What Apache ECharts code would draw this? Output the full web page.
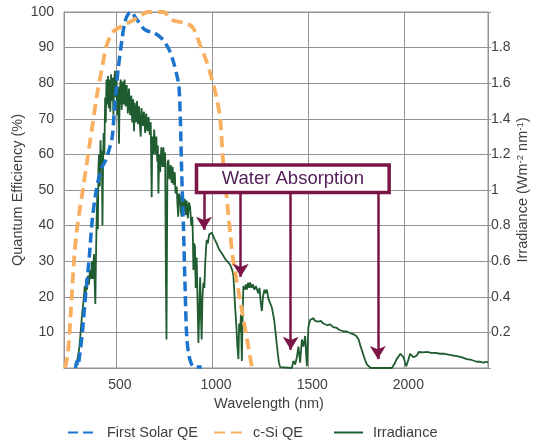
<!DOCTYPE html>
<html>
<head>
<meta charset="utf-8">
<script src="https://cdn.jsdelivr.net/npm/echarts@6/dist/echarts.min.js"></script>
<style>
  html, body { margin: 0; padding: 0; background: #fff; }
  #chart { width: 533px; height: 445px; }
</style>
</head>
<body>
<div id="chart"></div>
<script>
// Wavelength axis ticks (nm)
const wavelengthTicks = [500, 1000, 1500, 2000];

// Quantum efficiency curves: [wavelength nm, QE %]
const firstSolarQE = [
  [290, 0], [296, 1.8], [302, 0.6], [310, 3], [325, 9.7], [343, 21], [360, 30.3],
  [377, 41.6], [395, 49], [412, 53.7], [429, 56.5], [447, 58.4], [464, 61.2],
  [481, 65], [490, 71], [499, 77], [512, 84], [530, 91.7], [547, 97.3],
  [565, 99.5], [582, 100], [600, 98.5], [617, 97.3], [651, 95], [703, 94],
  [738, 92.6], [773, 89.8], [799, 86], [818, 82], [828, 79], [835, 70],
  [842, 55], [851, 40], [860, 22], [868, 9], [878, 4], [890, 1.5], [905, 0.3],
  [946, 0.3]
];

const cSiQE = [
  [235, 0], [250, 4], [265, 15.4], [282, 30.3], [299, 39.7], [325, 49],
  [351, 58.4], [377, 67.8], [403, 77.2], [429, 84.6], [452, 90.7], [487, 94.5],
  [539, 96.3], [591, 97.7], [625, 99], [669, 100], [747, 100], [790, 97.8],
  [868, 96.8], [903, 95.4], [938, 90.7], [972, 86], [998, 81.4], [1024, 75.8],
  [1042, 70], [1057, 58.4], [1078, 47], [1094, 38], [1110, 30.3], [1146, 19],
  [1182, 8], [1208, 0]
];

// Solar spectral irradiance: [wavelength nm, W m-2 nm-1]
const irradiance = [
  [290, 0], [295, 0.02], [300, 0.05], [305, 0.08], [310, 0.12], [315, 0.18],
  [320, 0.25], [325, 0.31], [330, 0.36], [335, 0.42], [338, 0.46], [342, 0.4],
  [346, 0.5], [350, 0.44], [355, 0.52], [360, 0.47], [365, 0.55], [370, 0.5],
  [375, 0.6], [380, 0.5], [386, 0.64], [390, 0.46], [393, 0.36], [396, 0.6],
  [400, 0.85], [403, 0.96], [406, 0.78], [409, 1.12], [412, 1.2], [416, 1.02],
  [420, 1.28], [424, 1.12], [427, 1.22], [430, 0.8], [433, 1.15], [436, 1.32],
  [440, 1.2], [444, 1.52], [447, 1.38], [451, 1.62], [455, 1.48], [459, 1.64],
  [463, 1.46], [467, 1.62], [471, 1.44], [475, 1.65], [479, 1.5], [483, 1.63],
  [487, 1.42], [490, 1.6], [495, 1.67], [499, 1.52], [503, 1.63], [507, 1.42],
  [511, 1.58], [516, 1.26], [520, 1.56], [525, 1.62], [530, 1.45], [535, 1.61],
  [540, 1.48], [545, 1.62], [550, 1.47], [556, 1.59], [562, 1.43], [568, 1.57],
  [574, 1.42], [580, 1.53], [585, 1.38], [590, 1.51], [594, 1.33], [598, 1.49],
  [604, 1.38], [610, 1.5], [615, 1.37], [620, 1.47], [625, 1.36], [629, 1.3],
  [633, 1.46], [640, 1.36], [646, 1.44], [652, 1.32], [658, 1.43], [664, 1.33],
  [670, 1.41], [676, 1.31], [681, 1.38], [686, 0.96], [689, 1.3], [694, 1.2],
  [699, 1.34], [705, 1.2], [710, 1.3], [715, 1.16], [718, 1.25], [721, 0.98],
  [725, 1.2], [730, 1.1], [736, 1.24], [742, 1.13], [747, 1.24], [752, 1.13],
  [756, 1.21], [760, 0.5], [763, 0.16], [765, 0.6], [768, 1.15], [773, 1.17],
  [778, 1.06], [785, 1.14], [790, 1.04], [795, 1.13], [800, 1.03], [806, 1.1],
  [810, 0.98], [816, 1.02], [820, 0.92], [824, 0.85], [828, 0.98], [834, 0.96],
  [838, 0.88], [842, 0.85], [847, 0.96], [852, 0.88], [858, 0.95], [863, 0.86],
  [868, 0.94], [874, 0.84], [880, 0.93], [886, 0.9], [892, 0.8], [897, 0.85],
  [900, 0.75], [903, 0.55], [907, 0.7], [911, 0.68], [915, 0.45], [920, 0.62],
  [925, 0.35], [929, 0.14], [933, 0.3], [938, 0.51], [942, 0.3], [946, 0.16],
  [950, 0.4], [955, 0.48], [960, 0.45], [964, 0.58], [968, 0.66], [972, 0.72],
  [978, 0.7], [985, 0.75], [990, 0.74], [998, 0.76], [1005, 0.75], [1015, 0.72],
  [1024, 0.7], [1035, 0.67], [1045, 0.66], [1059, 0.63], [1070, 0.61],
  [1080, 0.6], [1094, 0.58], [1105, 0.55], [1111, 0.52], [1116, 0.42],
  [1120, 0.34], [1124, 0.28], [1128, 0.2], [1132, 0.12], [1137, 0.05],
  [1141, 0.25], [1146, 0.2], [1150, 0.3], [1155, 0.04], [1159, 0.3],
  [1163, 0.46], [1170, 0.44], [1176, 0.47], [1181, 0.44], [1188, 0.48],
  [1193, 0.45], [1198, 0.48], [1205, 0.45], [1212, 0.47], [1220, 0.44],
  [1228, 0.46], [1233, 0.45], [1240, 0.42], [1247, 0.45], [1252, 0.38],
  [1259, 0.32], [1265, 0.4], [1272, 0.44], [1278, 0.42], [1285, 0.44],
  [1293, 0.39], [1300, 0.37], [1311, 0.34], [1318, 0.3], [1324, 0.26],
  [1330, 0.2], [1336, 0.14], [1342, 0.08], [1348, 0.03], [1354, 0.005],
  [1360, 0], [1415, 0], [1423, 0.04], [1432, 0.02], [1441, 0.06], [1449, 0.12],
  [1458, 0.03], [1467, 0.16], [1475, 0.12], [1484, 0.18], [1493, 0.01],
  [1501, 0.23], [1510, 0.27], [1518, 0.26], [1527, 0.28], [1535, 0.265],
  [1545, 0.275], [1553, 0.26], [1565, 0.265], [1579, 0.25], [1588, 0.255],
  [1600, 0.24], [1614, 0.245], [1630, 0.23], [1649, 0.225], [1660, 0.215],
  [1670, 0.215], [1685, 0.205], [1701, 0.205], [1720, 0.195], [1736, 0.19],
  [1750, 0.18], [1762, 0.16], [1770, 0.13], [1779, 0.1], [1788, 0.07],
  [1796, 0.045], [1805, 0.02], [1814, 0.01], [1825, 0], [1935, 0],
  [1945, 0.01], [1952, 0.03], [1960, 0.05], [1970, 0.06], [1980, 0.08],
  [1987, 0.08], [1996, 0.06], [2004, 0.03], [2010, 0.01], [2016, 0.03],
  [2022, 0.05], [2030, 0.08], [2039, 0.09], [2048, 0.06], [2056, 0.07],
  [2065, 0.07], [2075, 0.09], [2082, 0.09], [2100, 0.088], [2117, 0.09],
  [2140, 0.085], [2160, 0.085], [2186, 0.08], [2210, 0.08], [2230, 0.075],
  [2256, 0.07], [2280, 0.065], [2300, 0.06], [2325, 0.05], [2350, 0.045],
  [2377, 0.035], [2395, 0.035], [2412, 0.03], [2425, 0.035], [2435, 0.03]
];

// Water absorption call-out: box extent and arrow targets
const absorptionLabel = 'Water Absorption';
const absorptionBox = { from: [919, 57.0], to: [1921, 49.3] };
const arrowWavelengths = [958, 1149, 1409, 1862];
const arrowTips = [38.8, 25.6, 5.1, 2.5];

const textColor = '#404040';
const gridColor = '#939393';
const maroon = '#7A1546';
const fontFamily = '"Liberation Sans", Arial, sans-serif';

const chart = echarts.init(document.getElementById('chart'), null, { renderer: 'canvas' });

const legendBase = {
  top: 425,
  padding: 0,
  itemWidth: 29,
  itemHeight: 14,
  itemStyle: { opacity: 0 },
  textStyle: { color: textColor, fontSize: 14.5, fontFamily, padding: [0, 0, 0, 5] }
};

chart.setOption({
  animation: false,
  backgroundColor: '#fff',
  textStyle: { fontFamily },
  grid: {
    left: 64, right: 45, top: 12, bottom: 77,
    outerBoundsMode: 'none',
    containLabel: false,
    show: true, borderColor: gridColor, borderWidth: 1
  },
  legend: [
    Object.assign({ left: 67, data: ['First Solar QE'] }, legendBase),
    Object.assign({ left: 213, data: ['c-Si QE'] }, legendBase),
    Object.assign({ left: 333, data: ['Irradiance'] }, legendBase)
  ],
  xAxis: {
    type: 'value',
    min: 230,
    max: 2435,
    name: 'Wavelength (nm)',
    nameLocation: 'middle',
    nameGap: 28,
    nameMoveOverlap: false,
    nameTextStyle: { color: textColor, fontSize: 14.5, padding: [0, 14, 0, 0] },
    axisLine: { show: true, lineStyle: { color: gridColor } },
    axisTick: { show: false, customValues: wavelengthTicks },
    axisLabel: {
      customValues: wavelengthTicks,
      color: textColor, fontSize: 14, margin: 10, padding: [0, 0, 0, 8],
      formatter: v => String(v)
    },
    splitLine: { show: true, lineStyle: { color: gridColor, width: 1 } }
  },
  yAxis: [
    {
      type: 'value',
      min: 0, max: 100, interval: 10,
      name: 'Quantum Efficiency (%)',
      nameLocation: 'middle',
      nameRotate: 90,
      nameGap: 39,
      nameMoveOverlap: false,
      nameTextStyle: { color: textColor, fontSize: 14.5 },
      axisLine: { show: true, lineStyle: { color: gridColor } },
      axisTick: { show: false },
      axisLabel: {
        color: textColor, fontSize: 14, margin: 10, padding: [6, 0, 0, 0],
        formatter: v => (v === 0 ? '' : String(v))
      },
      splitLine: { show: true, lineStyle: { color: gridColor, width: 1 } }
    },
    {
      type: 'value',
      min: 0, max: 2, interval: 0.2,
      position: 'right',
      name: 'Irradiance (Wm{sup|-2} nm{sup|-1})',
      nameLocation: 'middle',
      nameRotate: 90,
      nameGap: 27,
      nameMoveOverlap: false,
      nameTextStyle: {
        color: textColor, fontSize: 14.5,
        rich: { sup: { fontSize: 9.5, color: textColor, verticalAlign: 'top', padding: [0, 0, 6, 0] } }
      },
      axisLine: { show: true, lineStyle: { color: gridColor } },
      axisTick: { show: true, length: 3, inside: false, lineStyle: { color: gridColor } },
      axisLabel: {
        color: textColor, fontSize: 14, margin: 3, padding: [3, 0, 0, 0],
        formatter: v => {
          if (v === 0 || Math.abs(v - 2) < 1e-9) return '';
          return String(Math.round(v * 10) / 10);
        }
      },
      splitLine: { show: false }
    }
  ],
  series: [
    {
      name: 'Irradiance',
      type: 'line',
      yAxisIndex: 1,
      data: irradiance,
      symbol: 'none',
      z: 2,
      lineStyle: { color: '#1F5C30', width: 1.8 },
      itemStyle: { color: '#1F5C30' }
    },
    {
      name: 'First Solar QE',
      type: 'line',
      yAxisIndex: 0,
      data: firstSolarQE,
      symbol: 'none',
      smooth: 0.3,
      z: 3,
      lineStyle: { color: '#1B75CF', width: 3.5, type: [10, 5], cap: 'butt' },
      itemStyle: { color: '#1B75CF' }
    },
    {
      name: 'c-Si QE',
      type: 'line',
      yAxisIndex: 0,
      data: cSiQE,
      symbol: 'none',
      smooth: 0.3,
      z: 3,
      lineStyle: { color: '#F9AF60', width: 3.8, type: [11, 6], cap: 'butt' },
      itemStyle: { color: '#F9AF60' }
    },
    {
      name: 'annotation',
      type: 'line',
      yAxisIndex: 0,
      data: [],
      silent: true,
      markLine: {
        z: 10,
        silent: true,
        symbol: ['none', 'arrow'],
        symbolSize: [12, 13],
        label: { show: false },
        lineStyle: { color: maroon, width: 2.5, type: 'solid' },
        emphasis: { disabled: true },
        data: arrowWavelengths.map((w, i) => [
          { coord: [w, absorptionBox.to[1]] },
          { coord: [w, arrowTips[i]] }
        ])
      },
      markArea: {
        z: 11,
        silent: true,
        itemStyle: { color: '#ffffff', borderColor: maroon, borderWidth: 3.5, opacity: 1 },
        label: {
          show: true, position: 'inside',
          color: '#55205A', fontSize: 18.5, fontFamily
        },
        emphasis: { disabled: true },
        data: [[
          { name: absorptionLabel, coord: absorptionBox.from },
          { coord: absorptionBox.to }
        ]]
      }
    }
  ]
});
</script>
</body>
</html>
